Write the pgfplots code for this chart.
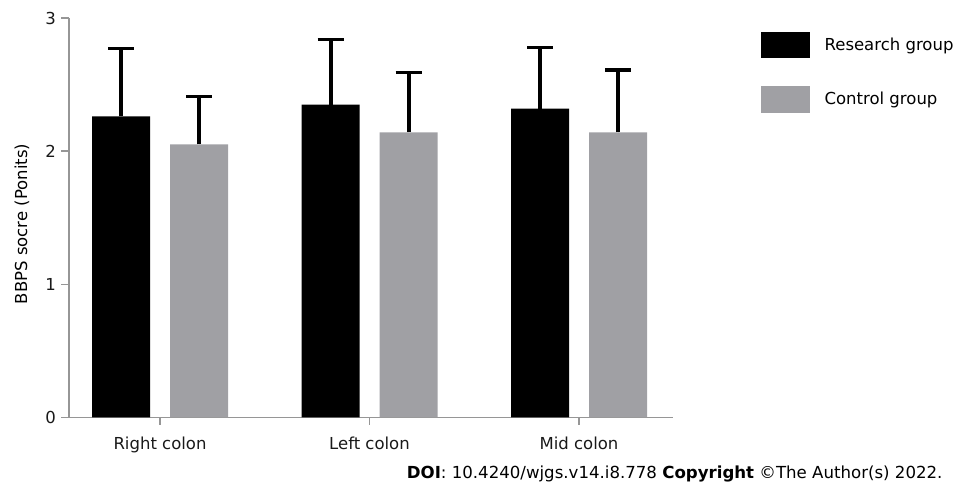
\documentclass[border=0pt]{standalone}
\usepackage{pgfplots}
\pgfplotsset{compat=1.18}
\usepackage{fontspec}
\setmainfont{DejaVu Sans}
\definecolor{ctrl}{RGB}{160,160,164}
\definecolor{axgray}{RGB}{150,150,150}
\begin{document}
\begin{tikzpicture}
\path[use as bounding box] (0,0) rectangle (953pt,482pt);
\begin{axis}[
  at={(69pt,64.7pt)}, anchor=south west,
  scale only axis, width=604pt, height=399.3pt,
  xmin=0.5656, xmax=3.4487, ymin=0, ymax=3,
  axis x line*=bottom, axis y line*=left,
  axis line style={axgray, line width=1.2pt, -},
  every tick/.style={axgray, line width=1.2pt},
  tick align=outside, major tick length=7.5pt,
  xtick={1,2,3}, xticklabels={Right colon, Left colon, Mid colon},
  ytick={0,1,2,3},
  /pgf/number format/assume math mode=true,
  tick label style={font=\fontsize{16.5}{19}\selectfont, text=black!90},
  xticklabel style={yshift=-9pt},
  yticklabel style={xshift=-2pt},
  ylabel={BBPS socre (Ponits)},
  ylabel style={font=\fontsize{16.5}{19}\selectfont, at={(axis description cs:-0.0778,0.484)}, anchor=center},
  ybar, bar width=58pt,
  legend style={at={(rel axis cs:1.1457,0.9657)}, anchor=north west, draw=none, fill=none,
    font=\fontsize{16.5}{19}\selectfont, inner sep=0pt, outer sep=0pt, row sep=27.7pt,
    nodes={inner sep=0pt, outer sep=0pt}, column sep=15pt},
  legend cell align=left,
  legend image code/.code={\fill[#1] (0pt,-13.3pt) rectangle (48.6pt,13.3pt);},
  clip=false,
]
\addplot[fill=black, draw=none, bar shift=-39pt,
  error bars/.cd, y dir=plus, y explicit, error mark=|,
  error bar style={line width=4pt, black},
  error mark options={mark size=13pt, line width=3.5pt, black}]
  coordinates {(1,2.26) +- (0,0.51) (2,2.35) +- (0,0.49) (3,2.32) +- (0,0.46)};
\addlegendentry{Research group}
\addplot[fill=ctrl, draw=none, bar shift=39pt,
  error bars/.cd, y dir=plus, y explicit, error mark=|,
  error bar style={line width=4pt, black},
  error mark options={mark size=13pt, line width=3.5pt, black}]
  coordinates {(1,2.05) +- (0,0.36) (2,2.14) +- (0,0.45) (3,2.14) +- (0,0.47)};
\addlegendentry{Control group}
\end{axis}
\node[anchor=base west, inner sep=0pt, font=\fontsize{16.6}{19}\selectfont] at (406.7pt,4pt)
  {\textbf{DOI}: 10.4240/wjgs.v14.i8.778 \textbf{Copyright} ©The Author(s) 2022.};
\end{tikzpicture}
\end{document}
